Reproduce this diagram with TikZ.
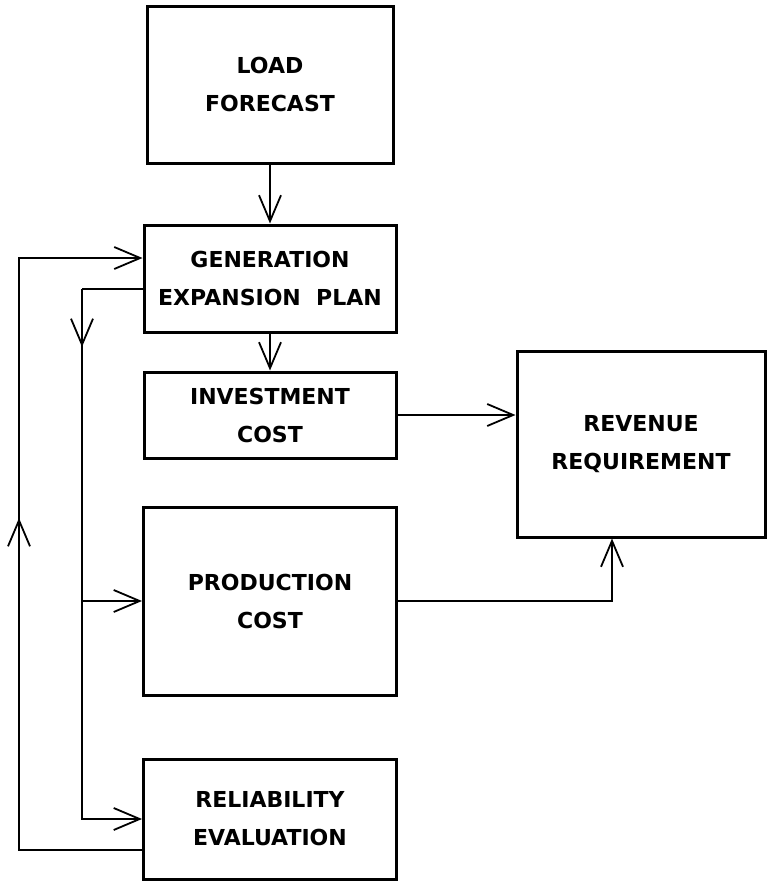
\documentclass[tikz,border=0pt]{standalone}
\usepackage{fontspec}
\setmainfont{DejaVu Sans}
\usetikzlibrary{arrows.meta}

\begin{document}
\begin{tikzpicture}[x=1pt,y=-1pt,
  block/.style={draw, line width=3pt, align=center, inner sep=0pt,
    font=\fontsize{22}{38}\selectfont\bfseries},
  link/.style={line width=1.8pt},
  >={Straight Barb[length=26pt,width=22pt,line width=1.8pt]}]
\useasboundingbox (0,0) rectangle (766,881);
  % Draw blocks
  \node[block, minimum width=246pt, minimum height=157pt] (load) at (270,84.5) {LOAD\\FORECAST};
  \node[block, minimum width=252pt, minimum height=107pt] (gen) at (270,278.5) {GENERATION\\EXPANSION\ \ PLAN};
  \node[block, minimum width=252pt, minimum height=86pt]  (invest) at (270,415) {INVESTMENT\\COST};
  \node[block, minimum width=248pt, minimum height=186pt] (revenue) at (641,444) {REVENUE\\REQUIREMENT};
  \node[block, minimum width=253pt, minimum height=188pt] (prod) at (270,601) {PRODUCTION\\COST};
  \node[block, minimum width=253pt, minimum height=120pt] (rel) at (270,819) {RELIABILITY\\EVALUATION};

  % Draw main flow
  \draw[link,->] (load) -- (gen);
  \draw[link,->] (gen) -- (invest);
  \draw[link,->] (invest.east) -- (invest.east -| revenue.west);
  \draw[link,->] (prod.east) -| ([xshift=-29pt]revenue.south);

  % Draw feed from the plan
  \coordinate (feed) at (82,289);
  \draw[link] (gen.west |- feed) -- (feed);
  \draw[link,->] (feed) |- (rel.west);
  \draw[link,->] (feed |- prod.west) -- (prod.west);
  \draw[link,->] (feed) -- ++(0,58);

  % Draw return loop
  \coordinate (ret) at (19,850);
  \draw[link,->] (rel.west |- ret) -- (ret) |- ([yshift=20.5pt]gen.west);
  \draw[link,->] (ret) -- (19,518);
\end{tikzpicture}
\end{document}
